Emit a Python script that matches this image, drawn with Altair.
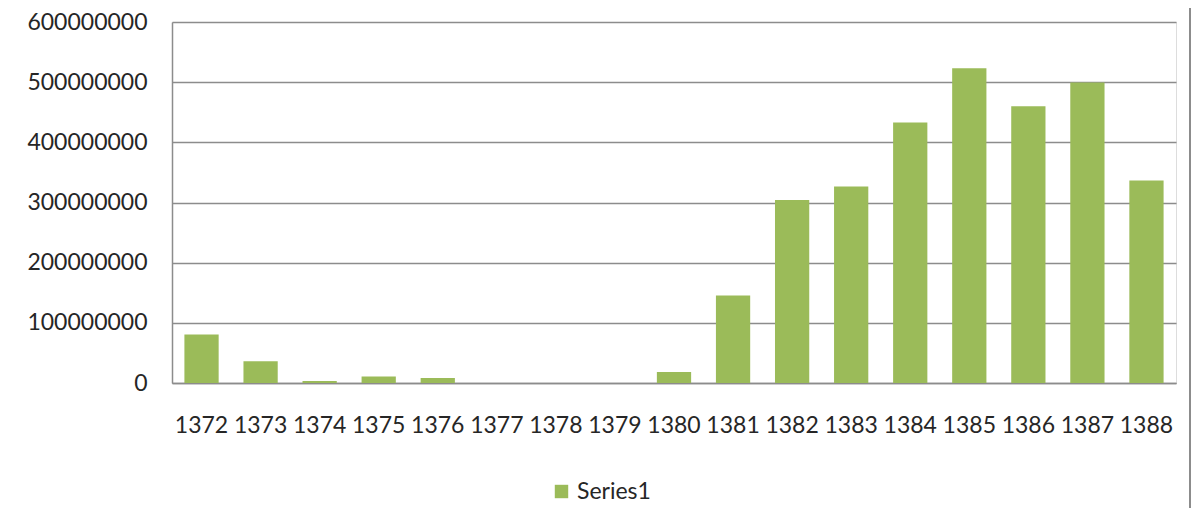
import altair as alt
import pandas as pd

years = ["1372", "1373", "1374", "1375", "1376", "1377", "1378", "1379", "1380",
         "1381", "1382", "1383", "1384", "1385", "1386", "1387", "1388"]
values = [80500000, 36000000, 3300000, 11000000, 8500000, 0, 0, 0, 18300000,
          145500000, 304000000, 326500000, 433000000, 523000000, 460000000, 499500000, 336500000]
series = ["Series1"] * len(years)

df = pd.DataFrame({"year": years, "value": values, "series": series})

FONT = "Lato"
TXT = "#262626"
FS = 23

bars = alt.Chart(df).mark_bar().encode(
    x=alt.X("year:N", sort=years, title=None,
            scale=alt.Scale(paddingInner=0.42, paddingOuter=0.21),
            axis=alt.Axis(labelAngle=0, labelFont=FONT, labelFontSize=FS, labelColor=TXT,
                          labelPadding=31, labelBaseline="top", ticks=False,
                          domainColor="#8c8c8c", domainWidth=1.5, grid=False)),
    y=alt.Y("value:Q", title=None,
            scale=alt.Scale(domain=[0, 600000000], nice=False),
            axis=alt.Axis(values=[0, 100000000, 200000000, 300000000, 400000000, 500000000, 600000000],
                          format="d", labelFont=FONT, labelFontSize=FS, labelColor=TXT,
                          labelPadding=25, ticks=False, domainColor="#8c8c8c", domainWidth=1.5,
                          gridColor="#8c8c8c", gridWidth=1.5)),
    color=alt.Color("series:N", title=None,
                    scale=alt.Scale(range=["#9bbb59"]),
                    legend=alt.Legend(orient="none", legendX=378, legendY=458,
                                      symbolType="square", symbolSize=180, symbolStrokeWidth=0,
                                      labelFont=FONT, labelFontSize=FS, labelColor=TXT,
                                      labelOffset=4)),
)

frame = alt.Chart(df).mark_rule(color="#8c8c8c", strokeWidth=2).encode(
    x=alt.value(1018), y=alt.value(-22), y2=alt.value(520)
)

chart = alt.layer(bars, frame).properties(
    width=1004, height=361,
    padding={"left": 164, "top": 14, "right": 18, "bottom": 125},
    autosize=alt.AutoSizeParams(type="none"),
).configure_view(stroke=None).configure(background="white")

chart.save("out.html", embed_options={"renderer": "svg", "actions": False})
